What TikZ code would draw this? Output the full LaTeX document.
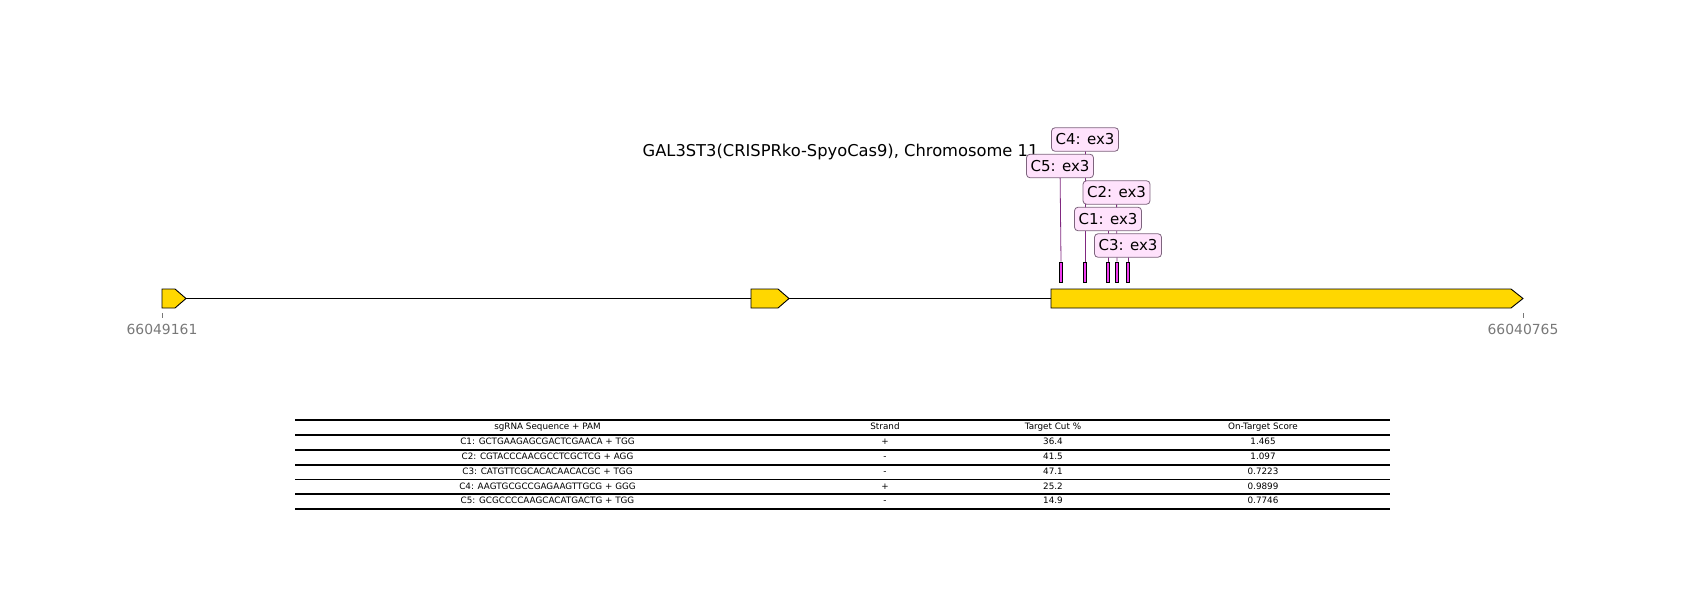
\documentclass[tikz,border=0pt]{standalone}
\usepackage{fontspec}
\setmainfont{DejaVu Sans}
\definecolor{exongold}{RGB}{255,215,0}
\definecolor{sitepink}{RGB}{240,60,240}
\definecolor{boxpink}{RGB}{255,226,252}
\definecolor{boxedge}{RGB}{125,100,125}
\definecolor{pointerpurple}{RGB}{128,40,128}
\definecolor{axisgray}{RGB}{120,120,120}
\begin{document}
\begin{tikzpicture}[x=1pt, y=-1pt,
    exon/.style={draw=black, fill=exongold, line width=0.9pt, line join=miter},
    cutsite/.style={draw=black, fill=sitepink, line width=0.6pt, minimum width=3.5pt, minimum height=20pt, inner sep=0pt},
    guidebox/.style={draw=boxedge, fill=boxpink, rounded corners=3.5pt, line width=0.8pt, minimum width=67pt, minimum height=23.5pt, inner sep=0pt, font=\fontsize{15}{18}\selectfont},
    pointer/.style={draw=pointerpurple, line width=0.8pt},
    tabcell/.style={inner sep=0pt, text height=6.3pt, text depth=1.7pt, font=\fontsize{8.8}{10}\selectfont},
    tabrule/.style={line width=1.4pt},
  ]
        \useasboundingbox (0,0) rectangle (1700,600);
        % coordinates for the gene
        \coordinate (genestart)  at (162,  298.5);
        \coordinate (geneend)    at (1523, 298.5);
        % title
        \node[anchor=base, font=\fontsize{16.3}{20}\selectfont] (title) at (840.5,156)
             {GAL3ST3(CRISPRko-SpyoCas9), Chromosome 11};
        % drawing the backbone and the exons
        \draw[line width=1.8pt] (genestart) -- (geneend);
        \draw[exon] (162,289)  -- (175,289)  -- (186,298.5)  -- (175,308)  -- (162,308)  -- cycle;
        \draw[exon] (751,289)  -- (778,289)  -- (789,298.5)  -- (778,308)  -- (751,308)  -- cycle;
        \draw[exon] (1051,289) -- (1511,289) -- (1523,298.5) -- (1511,308) -- (1051,308) -- cycle;
        % axis ticks and positions
        \draw[axisgray, line width=0.8pt] (162,313)  -- (162,318);
        \draw[axisgray, line width=0.8pt] (1523,313) -- (1523,318);
        \node[text=axisgray, font=\fontsize{13.9}{16}\selectfont] (startpos) at (162,329)  {66049161};
        \node[text=axisgray, font=\fontsize{13.9}{16}\selectfont] (endpos)   at (1523,329) {66040765};
        % cut sites
        \node[cutsite] (site5) at (1061,272) {};
        \node[cutsite] (site4) at (1085,272) {};
        \node[cutsite] (site1) at (1108,272) {};
        \node[cutsite] (site2) at (1117,272) {};
        \node[cutsite] (site3) at (1128,272) {};
        % guide labels
        \coordinate (guide4pos) at (1085,  139.5);
        \coordinate (guide5pos) at (1060,  166);
        \coordinate (guide2pos) at (1116.5,192.5);
        \coordinate (guide1pos) at (1108,  219);
        \coordinate (guide3pos) at (1128,  245.5);
        \draw[pointer] (guide4pos) -- (site4.north);
        \draw[pointer] (guide5pos) -- (site5.north);
        \draw[pointer] (guide2pos) -- (site2.north);
        \draw[pointer] (guide1pos) -- (site1.north);
        \draw[pointer] (guide3pos) -- (site3.north);
        \node[guidebox] (guide1) at (guide1pos) {C1: ex3};
        \node[guidebox] (guide2) at (guide2pos) {C2: ex3};
        \node[guidebox] (guide3) at (guide3pos) {C3: ex3};
        \node[guidebox] (guide4) at (guide4pos) {C4: ex3};
        \node[guidebox] (guide5) at (guide5pos) {C5: ex3};
        % table rules
        \draw[tabrule] (295,420)   -- (1390,420);
        \draw[tabrule] (295,435)   -- (1390,435);
        \draw[tabrule] (295,450)   -- (1390,450);
        \draw[tabrule] (295,465)   -- (1390,465);
        \draw[tabrule] (295,479.5) -- (1390,479.5);
        \draw[tabrule] (295,494)   -- (1390,494);
        \draw[tabrule] (295,509)   -- (1390,509);
        % table header
        \node[tabcell] (headseq)    at (547.5,427.5) {sgRNA Sequence + PAM};
        \node[tabcell] (headstrand) at (885,  427.5) {Strand};
        \node[tabcell] (headcut)    at (1053, 427.5) {Target Cut \%};
        \node[tabcell] (headscore)  at (1263, 427.5) {On-Target Score};
        % table rows
        \node[tabcell] (seq1)    at (547.5,442.5) {C1: GCTGAAGAGCGACTCGAACA + TGG};
        \node[tabcell] (strand1) at (885,  442.5) {+};
        \node[tabcell] (cut1)    at (1053, 442.5) {36.4};
        \node[tabcell] (score1)  at (1263, 442.5) {1.465};
        \node[tabcell] (seq2)    at (547.5,457.5) {C2: CGTACCCAACGCCTCGCTCG + AGG};
        \node[tabcell] (strand2) at (885,  457.5) {-};
        \node[tabcell] (cut2)    at (1053, 457.5) {41.5};
        \node[tabcell] (score2)  at (1263, 457.5) {1.097};
        \node[tabcell] (seq3)    at (547.5,472)   {C3: CATGTTCGCACACAACACGC + TGG};
        \node[tabcell] (strand3) at (885,  472)   {-};
        \node[tabcell] (cut3)    at (1053, 472)   {47.1};
        \node[tabcell] (score3)  at (1263, 472)   {0.7223};
        \node[tabcell] (seq4)    at (547.5,487)   {C4: AAGTGCGCCGAGAAGTTGCG + GGG};
        \node[tabcell] (strand4) at (885,  487)   {+};
        \node[tabcell] (cut4)    at (1053, 487)   {25.2};
        \node[tabcell] (score4)  at (1263, 487)   {0.9899};
        \node[tabcell] (seq5)    at (547.5,501.5) {C5: GCGCCCCAAGCACATGACTG + TGG};
        \node[tabcell] (strand5) at (885,  501.5) {-};
        \node[tabcell] (cut5)    at (1053, 501.5) {14.9};
        \node[tabcell] (score5)  at (1263, 501.5) {0.7746};
\end{tikzpicture}
\end{document}
